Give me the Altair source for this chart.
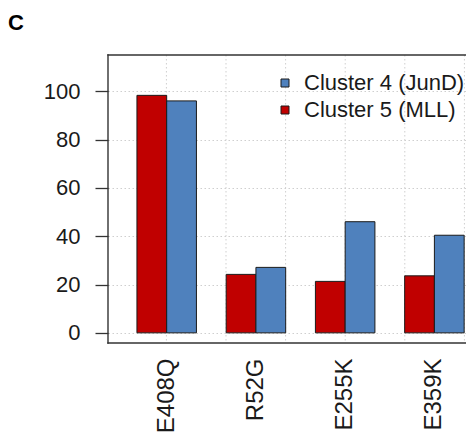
import altair as alt
import pandas as pd

mutations = ["E408Q", "R52G", "E255K", "E359K"]
cluster5 = [98.3, 24.2, 21.3, 23.6]   # Cluster 5 (MLL), red
cluster4 = [96.0, 27.1, 46.0, 40.4]   # Cluster 4 (JunD), blue
c4_name = "Cluster 4 (JunD)"
c5_name = "Cluster 5 (MLL)"
y_ticks = [0, 20, 40, 60, 80, 100]
vgrid_units = [2, 4, 6, 8, 10, 12]
panel_label = "C"

FONT = "Liberation Sans"
RED = "#C00000"
BLUE = "#4F81BD"
FRAME = "#333333"

rows = []
for m, a, b in zip(mutations, cluster5, cluster4):
    rows.append({"mutation": m, "cluster": c5_name, "value": a})
    rows.append({"mutation": m, "cluster": c4_name, "value": b})
df = pd.DataFrame(rows)

W = 358
H = 288
ydom = [-4.2, 115]
unit = 29.8

grid = alt.Chart(pd.DataFrame({"u": vgrid_units})).mark_rule(
    color="#cfcfcf", strokeDash=[1.5, 2.5], strokeWidth=1
).encode(
    x=alt.X("u:Q", scale=alt.Scale(domain=[0.04, 0.04 + W / unit], nice=False, zero=False), axis=None),
    y=alt.value(0),
    y2=alt.value(H),
)

bars = alt.Chart(df).mark_bar(stroke="#1a1a1a", strokeWidth=1).encode(
    x=alt.X(
        "mutation:N",
        sort=mutations,
        scale=alt.Scale(paddingInner=1 / 3, paddingOuter=0.1725, align=0.94),
        axis=alt.Axis(
            title=None, labelAngle=-90, ticks=False, domain=False, grid=False,
            labelPadding=15, labelFontSize=24, labelFont=FONT, labelColor="#1a1a1a",
        ),
    ),
    xOffset=alt.XOffset(
        "cluster:N", sort=[c5_name, c4_name],
        scale=alt.Scale(paddingInner=0, paddingOuter=0),
    ),
    y=alt.Y(
        "value:Q",
        scale=alt.Scale(domain=ydom, nice=False, zero=False),
        axis=alt.Axis(
            title=None, values=y_ticks, domain=False, tickSize=13, tickColor=FRAME,
            tickWidth=1.3, labelPadding=15, labelFontSize=22, labelFont=FONT,
            labelColor="#1a1a1a", grid=True, gridColor="#cfcfcf", gridDash=[1.5, 2.5],
            gridWidth=1,
        ),
    ),
    color=alt.Color(
        "cluster:N",
        scale=alt.Scale(domain=[c4_name, c5_name], range=[BLUE, RED]),
        legend=alt.Legend(
            title=None, orient="none", legendX=166, legendY=17, symbolType="square",
            symbolSize=64, symbolStrokeColor="#1a1a1a", symbolStrokeWidth=1,
            symbolOpacity=1, labelFontSize=22, labelFont=FONT, labelColor="#1a1a1a",
            labelOffset=8, rowPadding=5, padding=0, labelLimit=400,
        ),
    ),
)

one = pd.DataFrame({"k": [0]})
frame_top = alt.Chart(one).mark_rule(color=FRAME, strokeWidth=1.4).encode(
    x=alt.value(-0.7), x2=alt.value(W), y=alt.value(0))
frame_bottom = alt.Chart(one).mark_rule(color=FRAME, strokeWidth=1.4).encode(
    x=alt.value(-0.7), x2=alt.value(W), y=alt.value(H))
frame_left = alt.Chart(one).mark_rule(color=FRAME, strokeWidth=1.4).encode(
    x=alt.value(0), y=alt.value(-0.7), y2=alt.value(H + 0.7))

label = alt.Chart(pd.DataFrame({"t": [panel_label]})).mark_text(
    align="left", baseline="top", fontSize=22, fontWeight="bold", font=FONT, color="#000000"
).encode(
    x=alt.value(-100),
    y=alt.value(-42),
    text="t:N",
)

chart = alt.layer(grid, bars, frame_top, frame_bottom, frame_left, label).resolve_scale(
    x="independent"
).properties(
    width=W, height=H, background="white",
    padding={"left": 0, "top": 4, "right": 0, "bottom": 0},
).configure_view(stroke=None)

chart.save("out.html", embed_options={"renderer": "svg", "actions": False})
